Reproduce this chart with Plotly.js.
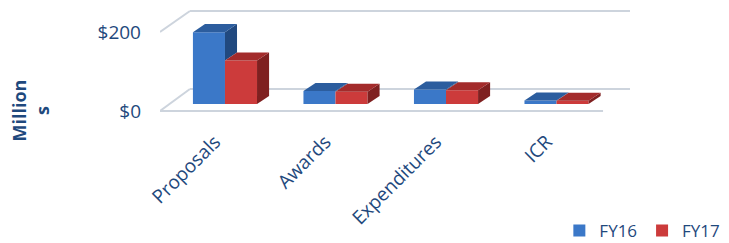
<!DOCTYPE html>
<html>
<head>
<meta charset="utf-8">
<script src="https://cdn.plot.ly/plotly-3.0.1.min.js"></script>
<style>html,body{margin:0;padding:0;background:#fff;}#chart{width:729px;height:243px;}</style>
</head>
<body>
<div id="chart"></div>
<script>
// ---- data ----
const categories = ['Proposals', 'Awards', 'Expenditures', 'ICR'];
const fy16 = [182, 33, 37, 9];
const fy17 = [110, 31, 35, 8];
const seriesNames = ['FY16', 'FY17'];
const yTickVals = [0, 200];
const yTickText = ['$0', '$200'];
const yTitle = 'Million<br>s';

// ---- style / geometry constants ----
const TXT = '#1f497d';
const FONT = '"Open Sans", "DejaVu Sans", sans-serif';
const BAR_W = 0.29;          // front face width (x units)
const BASE = 17.7;           // bars stand slightly behind front edge of floor
const DX = 0.109, DY = 20.3; // bar depth projection
const colors = {
  front: ['#3b78c8', '#cc3b3b'],
  top:   ['#2c5d9e', '#a32b2b'],
  side:  ['#21497f', '#7f2020']
};
const xIdx = categories.map((c, i) => i);

const traces = [];
[fy16, fy17].forEach((vals, s) => {
  traces.push({
    type: 'bar', name: seriesNames[s], x: xIdx, y: vals, base: BASE,
    width: BAR_W, offset: s === 0 ? -BAR_W : 0,
    marker: {color: colors.front[s], line: {width: 0}},
    hoverinfo: 'skip'
  });
});

function poly(xs, ys, color) {
  return {type: 'scatter', mode: 'lines', x: xs.concat([xs[0]]), y: ys.concat([ys[0]]),
          fill: 'toself', fillcolor: color, line: {width: 0, color: color},
          showlegend: false, hoverinfo: 'skip'};
}

// 3D top and side faces
xIdx.forEach(i => {
  [fy16, fy17].forEach((vals, s) => {
    const v = vals[i];
    const x0 = s === 0 ? i - BAR_W : i, x1 = x0 + BAR_W;
    const t = BASE + v;
    const low = s === 0 ? BASE + Math.min(v, fy17[i]) : BASE;
    if (t > low) {
      traces.push(poly([x1, x1, x1 + DX, x1 + DX], [low, t, t + DY, low + DY], colors.side[s]));
    }
    traces.push(poly([x0, x1, x1 + DX, x0 + DX], [t, t, t + DY, t + DY], colors.top[s]));
  });
});

// invisible helper trace so that the title axis is drawn
traces.push({type: 'scatter', mode: 'none', x: [0], y: [0], yaxis: 'y2', showlegend: false, hoverinfo: 'skip'});

const gl = {color: '#cdd4dd', width: 2};
const shapes = [
  {type: 'line', xref: 'x', yref: 'y', x0: -0.588, x1: 3.421, y0: 0, y1: 0, line: gl, layer: 'below'},
  {type: 'line', xref: 'x', yref: 'y', x0: -0.317, x1: 3.665, y0: 55.7, y1: 55.7, line: gl, layer: 'below'},
  {type: 'line', xref: 'x', yref: 'y', x0: -0.317, x1: 3.665, y0: 253.2, y1: 253.2, line: gl, layer: 'below'},
  {type: 'line', xref: 'x', yref: 'y', x0: -0.588, x1: -0.317, y0: 0, y1: 55.7, line: gl, layer: 'below'},
  {type: 'line', xref: 'x', yref: 'y', x0: -0.588, x1: -0.317, y0: 200, y1: 253.2, line: gl, layer: 'below'}
];

const layout = {
  width: 729, height: 243,
  margin: {l: 160, r: 97, t: 8, b: 121},
  paper_bgcolor: '#ffffff', plot_bgcolor: 'rgba(0,0,0,0)',
  barmode: 'overlay',
  showlegend: true,
  font: {family: FONT, color: TXT},
  xaxis: {
    range: [-0.588, 3.683], tickvals: xIdx, ticktext: categories, tickangle: -45,
    showgrid: false, zeroline: false, showline: false, ticks: '',
    tickfont: {size: 19, color: TXT, family: FONT}, ticklabelstandoff: 4, ticklabelshift: -10,
    fixedrange: true
  },
  yaxis: {
    domain: [0, 1],
    range: [-27.8, 260.8], tickvals: yTickVals, ticktext: yTickText,
    showgrid: false, zeroline: false, showline: false, ticks: '',
    tickfont: {size: 19, color: TXT, family: FONT}, ticklabelstandoff: 18, fixedrange: true
  },
  yaxis2: {
    domain: [0, 0.2], anchor: 'free', position: 0, overlaying: false,
    showgrid: false, zeroline: false, showline: false, ticks: '', showticklabels: false,
    title: {text: '<b>' + yTitle + '</b>', font: {size: 18, color: TXT, family: FONT}, standoff: 104},
    automargin: false, fixedrange: true
  },
  legend: {
    orientation: 'h', xref: 'container', yref: 'container', x: 0.995, xanchor: 'right',
    y: 0.05, yanchor: 'middle', font: {size: 17, color: TXT, family: FONT},
    itemwidth: 30, traceorder: 'normal', bgcolor: 'rgba(0,0,0,0)'
  },
  shapes: shapes
};

Plotly.newPlot('chart', traces, layout, {displayModeBar: false, staticPlot: true});
</script>
</body>
</html>
